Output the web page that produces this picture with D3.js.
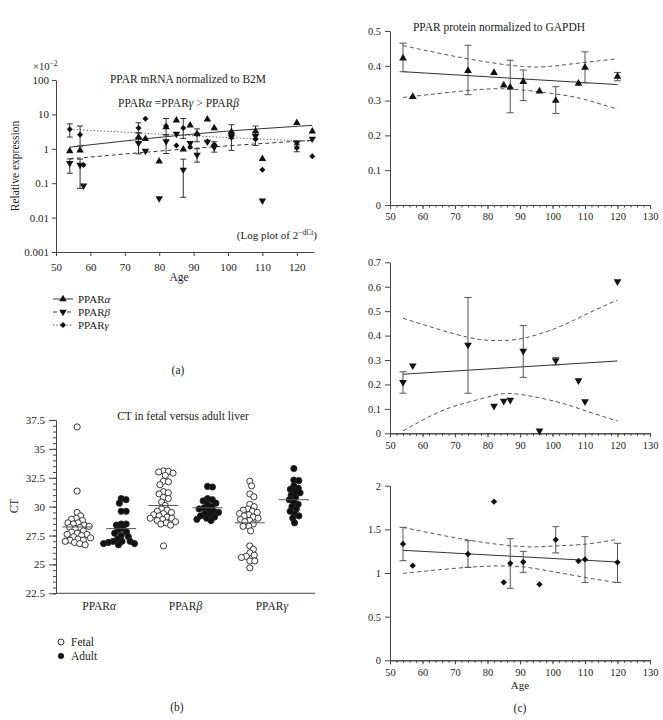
<!DOCTYPE html>
<html><head><meta charset="utf-8">
<script src="https://cdn.jsdelivr.net/npm/d3@7"></script>
<style>
body{margin:0;background:#fff}
svg text{font-family:"Liberation Serif","DejaVu Serif",serif;fill:#222}
</style>
</head><body><svg id="c" width="663" height="720"></svg>
<script>
// ================= DATA =================
// Panel (a): PPAR mRNA normalized to B2M (values ×10^-2); [age, value, low, high]
const aAlpha = [[54,0.86],[57,0.9],[74,2.2,1.5,2.9],[76,1.96],[80,0.43],[82,4.3],[85,6.7],[87,0.96],[89,4.8],[91,2.7,1.6,3.8],[94,7.2],[96,4.0],[101,3.1,2.0,5.0],[108,3.2,2.0,4.6],[110,0.51],[120,5.7],[124.5,3.2]];
const aBeta  = [[54,0.38,0.195,0.51],[57,0.34,0.071,0.5],[58,0.085],[74,1.47,0.71,2.1],[76,0.87],[80,0.036],[82,1.64,0.73,2.5],[85,2.7],[87,0.245,0.039,0.5],[89,1.47],[91,0.67,0.41,1.0],[94,1.6],[96,1.12,0.8,1.6],[101,2.2,0.9,3.0],[108,2.35,1.25,3.0],[110,0.031],[120,1.5,1.2,1.65],[124.5,1.95]];
const aGamma = [[54,3.7,2.2,5.3],[57,2.56,1.2,4.6],[58,0.34],[74,4.0,2.9,5.7],[76,7.5],[82,4.6,2.6,7.6],[85,1.25],[87,4.0,2.0,7.6],[89,1.12],[91,2.7],[94,1.64],[96,1.34],[101,2.7],[108,1.88],[110,0.245],[120,1.05,0.82,1.35],[124.5,0.61]];
const aFitAlpha = [[54,1.12],[91,2.74],[124.5,4.8]];
const aFitBeta  = [[54,0.51],[91,1.05],[124.5,1.76]];
const aFitGamma = [[54,3.7],[91,2.35],[124.5,1.64]];
const aXTicks = [50,60,70,80,90,100,110,120];
const aYTicks = [0.001,0.01,0.1,1,10,100];

// Panel (b): CT in fetal versus adult liver
const bCategories = ["α","β","γ"];
const bGroups = ["Fetal","Adult"];
const bAlphaFetal = [36.9,31.35,29.5,29.2,29.0,28.9,28.8,28.6,28.6,28.5,28.4,28.3,28.2,28.2,28.1,27.9,27.8,27.7,27.6,27.6,27.5,27.4,27.3,27.2,27.1,27.1,27.0,26.9,26.8,26.7];
const bAlphaAdult = [30.7,30.6,30.3,29.6,29.6,28.5,28.5,28.4,28.1,28.0,27.8,27.7,27.5,27.4,27.2,27.0,27.0,27.0,26.9,26.8,26.8,26.7];
const bBetaFetal  = [33.1,33.05,33.0,32.9,32.7,32.2,32.15,31.9,31.3,31.2,31.1,30.8,30.7,30.4,30.1,29.8,29.7,29.6,29.5,29.4,29.3,29.2,29.1,29.0,29.0,28.9,28.8,28.7,28.6,28.5,28.4,26.6];
const bBetaAdult  = [31.75,31.7,30.7,30.6,30.5,30.3,30.2,30.0,29.9,29.8,29.7,29.6,29.5,29.4,29.3,29.2,29.1,29.0,28.9,28.8];
const bGammaFetal = [32.2,31.8,31.1,30.85,30.2,30.0,29.8,29.7,29.6,29.5,29.4,29.3,29.2,29.1,29.0,28.9,28.8,28.7,28.5,28.3,28.3,27.9,26.6,26.3,26.0,25.8,25.7,25.6,25.3,25.3,24.7];
const bGammaAdult = [33.3,32.3,32.25,31.8,31.6,31.5,31.3,31.2,31.0,30.8,30.6,30.4,30.2,30.0,29.8,29.6,29.4,29.2,29.0,28.6];
const bMeans = {"α":[28.24,28.1],"β":[30.1,29.9],"γ":[28.6,30.6]};
const bYTicks = [22.5,25,27.5,30,32.5,35,37.5];

// Panel (c): PPAR protein normalized to GAPDH; [age, value, low, high]
const cAlpha = [[54,0.4215,0.383,0.465],[57,0.311],[74,0.386,0.317,0.459],[82,0.380],[85,0.344],[87,0.338,0.265,0.416],[91,0.354,0.3,0.388],[96,0.327],[101,0.3,0.263,0.34],[108,0.349],[110,0.395,0.351,0.44],[120,0.369,0.357,0.381]];
const cAlphaFit = [[54,0.383],[120,0.346]];
const cAlphaUpper = [[54,0.458],[74,0.42],[91,0.398],[101,0.40],[110,0.41],[120,0.42]];
const cAlphaLower = [[54,0.309],[74,0.329],[87,0.333],[101,0.319],[110,0.303],[120,0.275]];
const cBeta = [[54,0.209,0.164,0.252],[57,0.277],[74,0.362,0.164,0.556],[82,0.112],[85,0.132],[87,0.136],[91,0.337,0.229,0.441],[96,0.01],[101,0.298,0.28,0.311],[108,0.216],[110,0.13],[120,0.621]];
const cBetaFit = [[54,0.242],[120,0.296]];
const cBetaUpper = [[54,0.471],[74,0.393],[84,0.38],[91,0.389],[101,0.43],[110,0.485],[120,0.546]];
const cBetaLower = [[54,0.01],[65.4,0.089],[74,0.127],[82,0.155],[89,0.161],[101,0.13],[110,0.093],[120,0.05]];
const cGamma = [[54,1.333,1.141,1.523],[57,1.084],[74,1.218,1.065,1.37],[82,1.817],[85,0.893],[87,1.111,0.825,1.393],[91,1.126,1.008,1.248],[96,0.870],[101,1.382,1.23,1.531],[108,1.137],[110,1.156,0.89,1.416],[120,1.122,0.893,1.34]];
const cGammaFit = [[54,1.26],[120,1.126]];
const cGammaUpper = [[54,1.523],[74,1.378],[91,1.302],[101,1.31],[110,1.33],[120,1.386]];
const cGammaLower = [[54,0.996],[74,1.065],[87,1.08],[96,1.042],[110,0.95],[120,0.889]];
const cXTicks = [50,60,70,80,90,100,110,120,130];
const cYTicks1 = [0,0.1,0.2,0.3,0.4,0.5];
const cYTicks2 = [0,0.1,0.2,0.3,0.4,0.5,0.6,0.7];
const cYTicks3 = [0,0.5,1,1.5,2];

// ================= DRAWING =================
const FONT = '"Liberation Serif","DejaVu Serif",serif';
const AX = "#444";
const svg = d3.select("#c");

function styleAxis(g, fs){
  g.attr("font-family", FONT).attr("font-size", fs);
  g.selectAll("path,line").attr("stroke", AX).attr("stroke-width", 1);
  g.selectAll("text").attr("fill", "#222");
  return g;
}
function ppar(sel, x, y, greek, fs, anchor){
  const t = sel.append("text").attr("x", x).attr("y", y).attr("font-size", fs).attr("text-anchor", anchor||"start");
  t.append("tspan").text("PPAR");
  t.append("tspan").attr("font-style","italic").text(greek);
  return t;
}
function sym(type, size){
  const base = type==="diamond" ? d3.symbolSquare : d3.symbolTriangle;
  return d3.symbol().type(base).size(size)();
}
function markerTransform(type, x, y){
  if (type==="down") return `translate(${x},${y}) rotate(180)`;
  if (type==="diamond") return `translate(${x},${y}) rotate(45)`;
  return `translate(${x},${y})`;
}
function errorBars(g, data, x, y, cap, color){
  data.filter(d=>d.length>2).forEach(d=>{
    const cx = x(d[0]);
    g.append("line").attr("x1",cx).attr("x2",cx).attr("y1",y(d[2])).attr("y2",y(d[3])).attr("stroke",color).attr("stroke-width",1);
    [d[2],d[3]].forEach(v=>g.append("line").attr("x1",cx-cap).attr("x2",cx+cap).attr("y1",y(v)).attr("y2",y(v)).attr("stroke",color).attr("stroke-width",1));
  });
}
function markers(g, data, x, y, type, size){
  g.selectAll(null).data(data).join("path")
    .attr("d", sym(type, size))
    .attr("transform", d=>markerTransform(type, x(d[0]), y(d[1])))
    .attr("fill","#111");
}

// ---------- Panel (a) ----------
{
  const g = svg.append("g");
  const x = d3.scaleLinear().domain([50,125]).range([56,314]);
  const y = d3.scaleLog().domain([0.001,100]).range([252,80]);
  styleAxis(g.append("g").attr("transform","translate(56,0)")
    .call(d3.axisLeft(y).tickValues(aYTicks).tickFormat(d=>String(d)).tickSize(4).tickPadding(3).tickSizeOuter(0)), 11);
  styleAxis(g.append("g").attr("transform","translate(0,252)")
    .call(d3.axisBottom(x).tickValues(aXTicks).tickFormat(d3.format("d")).tickSize(4).tickPadding(7).tickSizeOuter(0)), 11);

  const line = d3.line().x(d=>x(d[0])).y(d=>y(d[1])).curve(d3.curveNatural);
  g.append("path").attr("d", line(aFitAlpha)).attr("fill","none").attr("stroke","#333").attr("stroke-width",1);
  g.append("path").attr("d", line(aFitBeta)).attr("fill","none").attr("stroke","#333").attr("stroke-width",1).attr("stroke-dasharray","4,3");
  g.append("path").attr("d", line(aFitGamma)).attr("fill","none").attr("stroke","#555").attr("stroke-width",1).attr("stroke-dasharray","1.2,2.2");

  errorBars(g, aAlpha, x, y, 3, "#333");
  errorBars(g, aBeta, x, y, 3, "#333");
  errorBars(g, aGamma, x, y, 3, "#333");
  markers(g, aAlpha, x, y, "up", 24);
  markers(g, aBeta, x, y, "down", 24);
  markers(g, aGamma, x, y, "diamond", 18);

  g.append("text").attr("x",188).attr("y",83).attr("text-anchor","middle").attr("font-size",11.5).text("PPAR mRNA normalized to B2M");
  const t = g.append("text").attr("x",118).attr("y",107).attr("font-size",11.5);
  t.append("tspan").text("PPAR"); t.append("tspan").attr("font-style","italic").text("α");
  t.append("tspan").text(" =PPAR"); t.append("tspan").attr("font-style","italic").text("γ");
  t.append("tspan").text(" > PPAR"); t.append("tspan").attr("font-style","italic").text("β");

  const m = g.append("text").attr("x",33).attr("y",70).attr("font-size",10.5);
  m.append("tspan").text("×10");
  m.append("tspan").attr("dy",-4).attr("font-size",7.5).text("−2");

  const lp = g.append("text").attr("x",317).attr("y",239).attr("text-anchor","end").attr("font-size",11);
  lp.append("tspan").text("(Log plot of 2");
  lp.append("tspan").attr("dy",-4).attr("font-size",7.5).text("−dCt");
  lp.append("tspan").attr("dy",4).text(")");

  g.append("text").attr("transform","translate(19,166) rotate(-90)").attr("text-anchor","middle").attr("font-size",11.5).text("Relative expression");
  g.append("text").attr("x",179).attr("y",281).attr("text-anchor","middle").attr("font-size",11.5).text("Age");

  // legend
  const leg = [["α","up",null,302],["β","down","4,3",315],["γ","diamond","1.2,2.2",328]];
  leg.forEach(([gr,type,dash,ly])=>{
    g.append("line").attr("x1",53).attr("x2",73).attr("y1",ly-3).attr("y2",ly-3).attr("stroke","#333").attr("stroke-width",1).attr("stroke-dasharray",dash);
    g.append("path").attr("d",sym(type, type==="diamond"?18:24)).attr("transform",markerTransform(type,63,ly-3)).attr("fill","#111");
    ppar(g, 78, ly+1, gr, 11);
  });
  g.append("text").attr("x",178).attr("y",374).attr("text-anchor","middle").attr("font-size",11.5).text("(a)");
}

// ---------- Panel (b) ----------
{
  const g = svg.append("g");
  const y = d3.scaleLinear().domain([22.5,37.5]).range([593.3,420]);
  const xc = d3.scaleBand().domain(bCategories).range([56,315]);
  const xg = d3.scalePoint().domain(bGroups).range([0, xc.bandwidth()]).padding(0.48);
  styleAxis(g.append("g").attr("transform","translate(56,0)")
    .call(d3.axisLeft(y).tickValues(bYTicks).tickFormat(d3.format("~g")).tickSize(7).tickPadding(4).tickSizeOuter(0)), 11);
  styleAxis(g.append("g").attr("transform","translate(56,0)")
    .call(d3.axisLeft(y).ticks(30).tickFormat("").tickSize(3).tickSizeOuter(0)), 11);
  g.append("line").attr("x1",56).attr("x2",315).attr("y1",593.3).attr("y2",593.3).attr("stroke",AX).attr("stroke-width",1);

  const R = 3.1;
  function swarm(vals){
    const pts = vals.map(v=>({v, y:y(v), x:0})).sort((a,b)=>a.y-b.y);
    const D = 2*R*0.8, placed=[];
    for (const p of pts){
      const near = placed.filter(q=>Math.abs(q.y-p.y)<D);
      const cands=[0];
      near.forEach(q=>{const dx=Math.sqrt(D*D-(q.y-p.y)**2); cands.push(q.x+dx,q.x-dx);});
      cands.sort((a,b)=>Math.abs(a)-Math.abs(b));
      for (const c of cands){ if (near.every(q=>(q.x-c)**2+(q.y-p.y)**2>=D*D-0.01)){p.x=c;break;} }
      placed.push(p);
    }
    return pts;
  }
  const sets = [["α","Fetal",bAlphaFetal],["α","Adult",bAlphaAdult],["β","Fetal",bBetaFetal],["β","Adult",bBetaAdult],["γ","Fetal",bGammaFetal],["γ","Adult",bGammaAdult]];
  sets.forEach(([cat,grp,vals])=>{
    const cx = xc(cat)+xg(grp);
    const pts = swarm(vals);
    g.selectAll(null).data(pts).join("circle")
      .attr("cx",d=>cx+d.x).attr("cy",d=>d.y).attr("r",R)
      .attr("fill",grp==="Fetal"?"#fff":"#111").attr("stroke","#222").attr("stroke-width",0.9);
    const mv = bMeans[cat][bGroups.indexOf(grp)];
    g.append("line").attr("x1",cx-15).attr("x2",cx+15).attr("y1",y(mv)).attr("y2",y(mv)).attr("stroke","#555").attr("stroke-width",1);
  });
  bCategories.forEach(cat=>ppar(g, xc(cat)+xc.bandwidth()/2, 610, cat, 11.5, "middle"));
  g.append("text").attr("x",183).attr("y",420).attr("text-anchor","middle").attr("font-size",11.5).text("CT in fetal versus adult liver");
  g.append("text").attr("transform","translate(18,506) rotate(-90)").attr("text-anchor","middle").attr("font-size",11.5).text("CT");
  g.append("circle").attr("cx",61).attr("cy",642).attr("r",3).attr("fill","#fff").attr("stroke","#222").attr("stroke-width",0.9);
  g.append("circle").attr("cx",61).attr("cy",656).attr("r",3).attr("fill","#111");
  g.append("text").attr("x",71).attr("y",646).attr("font-size",11.5).text("Fetal");
  g.append("text").attr("x",71).attr("y",660).attr("font-size",11.5).text("Adult");
  g.append("text").attr("x",177).attr("y",711).attr("text-anchor","middle").attr("font-size",11.5).text("(b)");
}

// ---------- Panel (c) ----------
function proteinPanel(data, fit, upper, lower, type, yDomain, yRange, yTicks, size){
  const g = svg.append("g");
  const x = d3.scaleLinear().domain([50,130]).range([390,650]);
  const y = d3.scaleLinear().domain(yDomain).range(yRange);
  const y0 = yRange[0];
  styleAxis(g.append("g").attr("transform","translate(390,0)")
    .call(d3.axisLeft(y).tickValues(yTicks).tickFormat(d3.format("~g")).tickSize(5).tickPadding(4).tickSizeOuter(0)), 10.5);
  styleAxis(g.append("g").attr("transform",`translate(0,${y0})`)
    .call(d3.axisBottom(x).tickValues(d3.range(50,131,2)).tickFormat("").tickSize(2.5).tickSizeOuter(0)), 10.5);
  styleAxis(g.append("g").attr("transform",`translate(0,${y0})`)
    .call(d3.axisBottom(x).tickValues(cXTicks).tickFormat(d3.format("d")).tickSize(4).tickPadding(4).tickSizeOuter(0)), 10.5);
  const line = d3.line().x(d=>x(d[0])).y(d=>y(d[1]));
  const curve = d3.line().x(d=>x(d[0])).y(d=>y(d[1])).curve(d3.curveNatural);
  g.append("path").attr("d",curve(upper)).attr("fill","none").attr("stroke","#555").attr("stroke-width",1).attr("stroke-dasharray","4,3");
  g.append("path").attr("d",curve(lower)).attr("fill","none").attr("stroke","#555").attr("stroke-width",1).attr("stroke-dasharray","4,3");
  g.append("path").attr("d",line(fit)).attr("fill","none").attr("stroke","#333").attr("stroke-width",1);
  errorBars(g, data, x, y, 3.5, "#555");
  markers(g, data, x, y, type, size);
  return g;
}
{
  const g1 = proteinPanel(cAlpha, cAlphaFit, cAlphaUpper, cAlphaLower, "up", [0,0.5], [205,31], cYTicks1, 26);
  g1.append("text").attr("x",499).attr("y",31).attr("text-anchor","middle").attr("font-size",11.5).text("PPAR protein normalized to GAPDH");
  proteinPanel(cBeta, cBetaFit, cBetaUpper, cBetaLower, "down", [0,0.7], [433.3,262.3], cYTicks2, 26);
  const g3 = proteinPanel(cGamma, cGammaFit, cGammaUpper, cGammaLower, "diamond", [0,2], [660.3,485.7], cYTicks3, 20);
  g3.append("text").attr("x",520).attr("y",689).attr("text-anchor","middle").attr("font-size",11).text("Age");
  g3.append("text").attr("x",520).attr("y",712).attr("text-anchor","middle").attr("font-size",11.5).text("(c)");
}
</script>
</body></html>
